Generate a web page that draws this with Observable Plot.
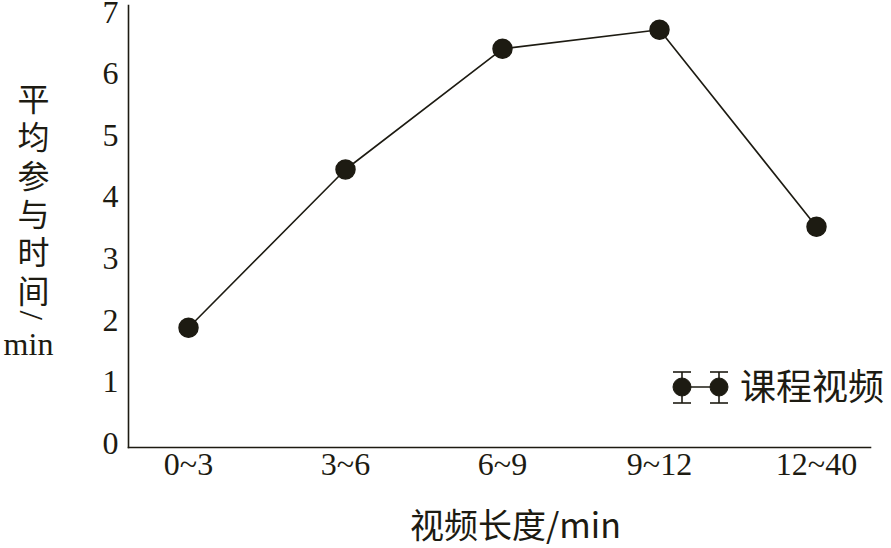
<!DOCTYPE html>
<html><head><meta charset="utf-8">
<script src="https://cdn.jsdelivr.net/npm/d3@7"></script>
<script src="https://cdn.jsdelivr.net/npm/@observablehq/plot@0.6"></script>
<style>
body{margin:0;background:#fff;}
#chart{position:relative;width:891px;height:548px;}
</style></head>
<body><div id="chart"></div>
<script>
const categories = ["0~3", "3~6", "6~9", "9~12", "12~40"];
const values = [1.88, 4.45, 6.41, 6.72, 3.52];
const yTicks = [0, 1, 2, 3, 4, 5, 6, 7];
const seriesName = "课程视频";
const xTitle = "视频长度/min";
const yTitleChars = "平\n均\n参\n与\n时\n间";

const ink = "#1d1b12";
const serif = "'Liberation Serif', 'DejaVu Serif', serif";
const cjk = "'Noto Sans CJK SC', 'Liberation Serif', serif";
const data = categories.map((c, i) => ({cat: c, v: values[i]}));

const plot = Plot.plot({
  width: 891, height: 548,
  marginLeft: 128, marginRight: 21, marginTop: 5, marginBottom: 101,
  style: {fontFamily: serif, color: ink, background: "#fff"},
  x: {type: "point", domain: categories, range: [187, 817], padding: 0},
  y: {domain: [0, 7], range: [443, 12]},
  marks: [
    Plot.frame({anchor: "left", stroke: ink, strokeWidth: 1.6}),
    Plot.frame({anchor: "bottom", stroke: ink, strokeWidth: 1.6}),
    Plot.axisY(yTicks, {tickSize: 0, tickPadding: 10, fontSize: 32, label: null, fill: ink, tickFormat: d3.format("d")}),
    Plot.axisX({tickSize: 0, tickPadding: 5, fontSize: 32, label: null, fill: ink}),
    Plot.line(data, {x: "cat", y: "v", stroke: ink, strokeWidth: 1.6}),
    Plot.dot(data, {x: "cat", y: "v", r: 9.5, fill: ink, stroke: ink}),
    Plot.text([xTitle], {frameAnchor: "bottom", dx: 16, dy: 90, fontSize: 34, fontFamily: cjk, fill: ink, text: d => d}),
    Plot.text([yTitleChars], {frameAnchor: "top-left", dx: -95, dy: 78, fontSize: 32, lineHeight: 1.2, lineAnchor: "top", textAnchor: "middle", fontFamily: cjk, fill: ink, text: d => d}),
    Plot.text(["/"], {frameAnchor: "top-left", dx: -84, dy: 305, rotate: 90, fontSize: 34, fontFamily: serif, fill: ink, text: d => d}),
    Plot.text(["min"], {frameAnchor: "top-left", dx: -100, dy: 327, textAnchor: "middle", fontSize: 32, fontFamily: serif, fill: ink, text: d => d})
  ]
});
document.getElementById("chart").appendChild(plot);

// legend
const svg = d3.select(plot);
const g = svg.append("g").attr("stroke", ink).attr("fill", ink);
const lx = [682, 719], ly = 387;
g.append("line").attr("x1", lx[0]).attr("x2", lx[1]).attr("y1", ly).attr("y2", ly).attr("stroke-width", 1.6);
lx.forEach(x => {
  g.append("line").attr("x1", x).attr("x2", x).attr("y1", ly - 15).attr("y2", ly + 16).attr("stroke-width", 1.6);
  g.append("line").attr("x1", x - 9).attr("x2", x + 9).attr("y1", ly - 15).attr("y2", ly - 15).attr("stroke-width", 1.6);
  g.append("line").attr("x1", x - 9).attr("x2", x + 9).attr("y1", ly + 16).attr("y2", ly + 16).attr("stroke-width", 1.6);
  g.append("circle").attr("cx", x).attr("cy", ly).attr("r", 9);
});
svg.append("text").attr("x", 740).attr("y", ly).attr("dy", "0.35em").attr("text-anchor", "start")
  .attr("font-size", 36).attr("font-family", cjk).attr("fill", ink).text(seriesName);
</script></body></html>
